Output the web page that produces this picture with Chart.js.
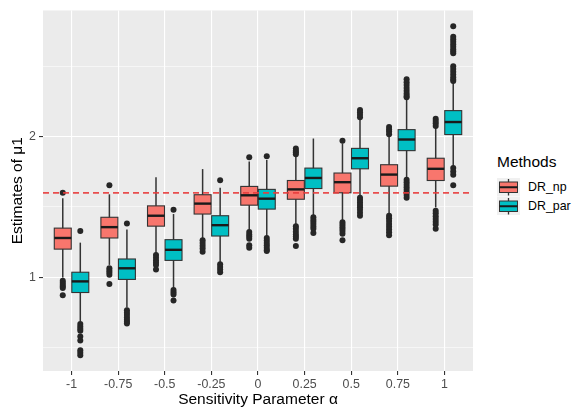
<!DOCTYPE html>
<html>
<head>
<meta charset="utf-8">
<script src="https://cdn.jsdelivr.net/npm/chart.js@4.4.1/dist/chart.umd.min.js"></script>
<style>
  body { margin: 0; background: #fff; font-family: "Liberation Sans", Arial, sans-serif; }
  #wrap { position: absolute; left: 0; top: 0; width: 480px; height: 414px; }
  #legend { position: absolute; left: 497px; top: 152px; color: #000; }
  #legend .title { font-size: 15.5px; height: 22px; line-height: 20px; margin-bottom: 4px; }
  #legend .row { height: 18.5px; display: flex; align-items: center; }
  #legend .row span { font-size: 12.4px; margin-left: 8px; white-space: nowrap; }
  #legend svg { display: block; }
</style>
</head>
<body>
<div id="wrap"><canvas id="chart"></canvas></div>
<div id="legend">
  <div class="title">Methods</div>
  <div class="row">
    <svg width="23" height="18.5"><rect width="23" height="18.5" fill="#F0F0F0"/><line x1="11.5" y1="1" x2="11.5" y2="17.5" stroke="#333" stroke-width="1.3"/><rect x="2.5" y="4" width="18" height="10.5" fill="#F8766D" stroke="#333" stroke-width="1"/><line x1="2.5" y1="9.25" x2="20.5" y2="9.25" stroke="#1a1a1a" stroke-width="2"/></svg>
    <span>DR_np</span>
  </div>
  <div class="row">
    <svg width="23" height="18.5"><rect width="23" height="18.5" fill="#F0F0F0"/><line x1="11.5" y1="1" x2="11.5" y2="17.5" stroke="#333" stroke-width="1.3"/><rect x="2.5" y="4" width="18" height="10.5" fill="#00BFC4" stroke="#333" stroke-width="1"/><line x1="2.5" y1="9.25" x2="20.5" y2="9.25" stroke="#1a1a1a" stroke-width="2"/></svg>
    <span>DR_par</span>
  </div>
</div>
<script>
// sensitivity parameter values (categories)
var alphas = [-1, -0.75, -0.5, -0.25, 0, 0.25, 0.5, 0.75, 1];
var xTickLabels = ["-1", "-0.75", "-0.5", "-0.25", "0", "0.25", "0.5", "0.75", "1"];
var yTicks = [0.5, 1, 1.5, 2, 2.5];
var trueValue = 1.6;

// DR_np box statistics
var npLow  = [1.000, 1.089, 1.170, 1.275, 1.334, 1.380, 1.403, 1.450, 1.497];
var npQ1   = [1.201, 1.280, 1.364, 1.450, 1.513, 1.555, 1.601, 1.648, 1.688];
var npMed  = [1.280, 1.357, 1.438, 1.524, 1.583, 1.625, 1.676, 1.730, 1.771];
var npQ3   = [1.350, 1.427, 1.508, 1.587, 1.646, 1.688, 1.741, 1.800, 1.846];
var npHigh = [1.562, 1.590, 1.711, 1.769, 1.823, 1.858, 1.951, 2.009, 2.061];
var npOut = [
  [1.601, 0.977, 0.962, 0.948, 0.935, 0.925, 0.874],
  [1.655, 1.065, 1.050, 1.035, 1.019, 0.953],
  [1.159, 1.140, 1.120, 1.105, 1.089, 1.056],
  [1.264, 1.245, 1.225, 1.205, 1.182],
  [1.853, 1.322, 1.305, 1.290, 1.275, 1.229, 1.210],
  [1.916, 1.900, 1.888, 1.874, 1.364, 1.345, 1.325, 1.305, 1.290, 1.275, 1.224],
  [1.970, 1.392, 1.375, 1.360, 1.345, 1.330, 1.310, 1.264],
  [2.068, 2.050, 2.035, 2.016, 1.438, 1.420, 1.400, 1.380, 1.360, 1.340, 1.320, 1.300],
  [2.126, 2.110, 2.095, 2.075, 1.473, 1.455, 1.435, 1.415, 1.395, 1.375, 1.345]
];

// DR_par box statistics
var parLow  = [0.687, 0.786, 0.925, 1.100, 1.294, 1.438, 1.578, 1.706, 1.788];
var parQ1   = [0.893, 0.986, 1.121, 1.294, 1.485, 1.631, 1.771, 1.900, 2.014];
var parMed  = [0.972, 1.065, 1.196, 1.371, 1.559, 1.706, 1.846, 1.979, 2.103];
var parQ3   = [1.037, 1.131, 1.268, 1.438, 1.625, 1.776, 1.916, 2.049, 2.184];
var parHigh = [1.247, 1.340, 1.450, 1.636, 1.834, 1.986, 2.126, 2.266, 2.383];
var parOut = [
  [1.329, 0.669, 0.652, 0.636, 0.622, 0.580, 0.552, 0.483, 0.465, 0.448],
  [1.382, 0.767, 0.750, 0.733, 0.716, 0.700, 0.685, 0.673],
  [1.480, 0.911, 0.895, 0.879, 0.837],
  [1.690, 1.093, 1.075, 1.056, 1.037],
  [1.860, 1.280, 1.262, 1.245, 1.228, 1.210, 1.195, 1.187],
  [1.427, 1.410, 1.395, 1.380, 1.362, 1.345, 1.315],
  [2.189, 2.172, 2.155, 2.137, 1.566, 1.550, 1.532, 1.515, 1.498, 1.480, 1.460, 1.438],
  [2.406, 2.385, 2.365, 2.345, 2.325, 2.305, 2.290, 2.278, 1.694, 1.676, 1.658, 1.640, 1.622, 1.605, 1.585, 1.566],
  [2.783, 2.708, 2.690, 2.672, 2.655, 2.638, 2.620, 2.605, 2.592, 2.499, 2.480, 2.460, 2.440, 2.420, 2.405, 2.394, 1.776, 1.752, 1.729, 1.655]
];

var dodge = 0.047;     // half distance between the two boxes, in alpha units
var boxHalf = 0.0455;  // half box width, in alpha units

function outlierPoints(out, off) {
  var pts = [];
  out.forEach(function(list, i) {
    list.forEach(function(v) { pts.push({ x: alphas[i] + off, y: v }); });
  });
  return pts;
}

function drawBoxes(chart, off, low, q1, med, q3, high, fill) {
  var ctx = chart.ctx, xs = chart.scales.x, ys = chart.scales.y;
  alphas.forEach(function(a, i) {
    var cx = xs.getPixelForValue(a + off);
    var left = xs.getPixelForValue(a + off - boxHalf);
    var right = xs.getPixelForValue(a + off + boxHalf);
    var top = ys.getPixelForValue(q3[i]);
    var bot = ys.getPixelForValue(q1[i]);
    ctx.strokeStyle = "#333333";
    ctx.lineWidth = 1.5;
    ctx.beginPath();
    ctx.moveTo(cx, ys.getPixelForValue(high[i]));
    ctx.lineTo(cx, ys.getPixelForValue(low[i]));
    ctx.stroke();
    ctx.fillStyle = fill;
    ctx.fillRect(left, top, right - left, bot - top);
    ctx.lineWidth = 1.1;
    ctx.strokeRect(left, top, right - left, bot - top);
    var m = ys.getPixelForValue(med[i]);
    ctx.strokeStyle = "#1a1a1a";
    ctx.lineWidth = 2.4;
    ctx.beginPath();
    ctx.moveTo(left, m);
    ctx.lineTo(right, m);
    ctx.stroke();
  });
}

var boxPlugin = {
  id: "boxes",
  beforeDraw: function(chart) {
    var a = chart.chartArea, ctx = chart.ctx;
    ctx.save();
    ctx.fillStyle = "#EBEBEB";
    ctx.fillRect(a.left, a.top, a.right - a.left, a.bottom - a.top);
    ctx.restore();
  },
  beforeDatasetsDraw: function(chart) {
    var ctx = chart.ctx;
    ctx.save();
    drawBoxes(chart, -dodge, npLow, npQ1, npMed, npQ3, npHigh, "#F8766D");
    drawBoxes(chart, dodge, parLow, parQ1, parMed, parQ3, parHigh, "#00BFC4");
    ctx.restore();
  },
  afterDatasetsDraw: function(chart) {
    var ctx = chart.ctx, a = chart.chartArea;
    var y = chart.scales.y.getPixelForValue(trueValue);
    ctx.save();
    ctx.strokeStyle = "rgba(232, 60, 60, 0.9)";
    ctx.lineWidth = 1.7;
    ctx.setLineDash([6, 4]);
    ctx.beginPath();
    ctx.moveTo(a.left, y);
    ctx.lineTo(a.right, y);
    ctx.stroke();
    ctx.restore();
  }
};

new Chart(document.getElementById("chart"), {
  type: "scatter",
  data: {
    datasets: [
      { label: "DR_np", data: outlierPoints(npOut, -dodge) },
      { label: "DR_par", data: outlierPoints(parOut, dodge) }
    ]
  },
  options: {
    responsive: true,
    maintainAspectRatio: false,
    animation: false,
    layout: { padding: { top: 5, right: 7, left: 0, bottom: 0 } },
    elements: {
      point: { radius: 3, backgroundColor: "#262626", borderWidth: 0, hoverRadius: 3 }
    },
    plugins: { legend: { display: false }, tooltip: { enabled: false } },
    scales: {
      x: {
        type: "linear",
        min: -1.153,
        max: 1.153,
        afterBuildTicks: function(scale) {
          scale.ticks = alphas.map(function(v) { return { value: v }; });
        },
        afterFit: function(scale) { scale.height = 43; },
        border: { display: false },
        grid: { color: "#FFFFFF", lineWidth: 1.1, tickColor: "#333333", tickLength: 4, tickWidth: 1.1 },
        ticks: {
          autoSkip: false, maxRotation: 0, padding: 2,
          color: "#4D4D4D", font: { family: "Liberation Sans, Arial", size: 12.4 },
          callback: function(v, i) { return xTickLabels[i]; }
        },
        title: {
          display: true, text: "Sensitivity Parameter α", color: "#000",
          font: { family: "Liberation Sans, Arial", size: 15.5 },
          padding: { top: 0, bottom: 4.5 }
        }
      },
      y: {
        type: "linear",
        min: 0.336,
        max: 2.895,
        afterBuildTicks: function(scale) {
          scale.ticks = yTicks.map(function(v) { return { value: v }; });
        },
        afterFit: function(scale) { scale.width = 43; },
        border: { display: false },
        grid: {
          color: "#FFFFFF",
          lineWidth: function(c) { return c.tick && c.tick.value % 1 === 0 ? 1.1 : 0.55; },
          tickColor: function(c) { return c.tick && c.tick.value % 1 === 0 ? "#333333" : "rgba(0,0,0,0)"; },
          tickLength: 4, tickWidth: 1.1
        },
        ticks: {
          padding: 3, color: "#4D4D4D", font: { family: "Liberation Sans, Arial", size: 12.4 },
          callback: function(v) { return v % 1 === 0 ? String(v) : ""; }
        },
        title: {
          display: true, text: "Estimates of μ1", color: "#000",
          font: { family: "Liberation Sans, Arial", size: 15.5 },
          padding: { top: 8.2, bottom: 0 }
        }
      }
    }
  },
  plugins: [boxPlugin]
});
</script>
</body>
</html>
